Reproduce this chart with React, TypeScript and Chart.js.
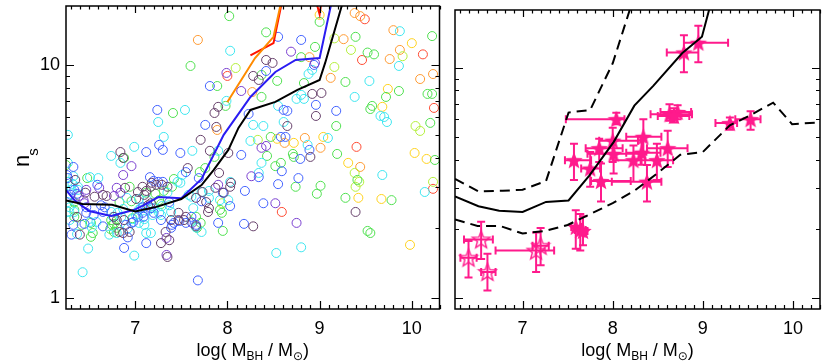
import React, { useEffect, useRef } from 'react';
import { Chart, registerables } from 'chart.js';

Chart.register(...registerables);

const FONT = "'Liberation Sans', Arial, 'DejaVu Sans', sans-serif";

// Axes
const X_MIN = 6.25;
const X_MAX = 10.3;
const Y_MIN = 0.897;
const Y_MAX = 17.9;
const xTickValues = [7, 8, 9, 10];
const yTickValues = [1, 10];
const yMinorTickValues = [2, 3, 4, 5, 6, 7, 8, 9];
const xTitleParts = ['log( M', 'BH', ' / M', '\u2299', ')'];
const yTitleParts = ['n', 's'];

// ---------- Left panel: binned lines ----------
const blackLineX = [6.25, 6.43, 6.75, 7.0, 7.23, 7.5, 7.72, 7.85, 8.01, 8.12, 8.25, 8.52, 8.76, 9.0, 9.06, 9.25, 9.5];
const blackLineY = [2.62, 2.53, 2.51, 2.35, 2.46, 2.66, 3.05, 3.54, 4.32, 5.37, 6.41, 6.94, 7.81, 8.62, 10.2, 18.5, 40];
const blueLineX = [6.25, 6.34, 6.5, 6.74, 6.99, 7.1, 7.25, 7.5, 7.72, 7.96, 8.25, 8.52, 8.74, 9.0, 9.25];
const blueLineY = [2.91, 2.63, 2.36, 2.25, 2.39, 2.51, 2.71, 2.68, 3.24, 5.01, 7.29, 9.33, 10.5, 10.7, 31];
const orangeLineX = [8.0, 8.3, 8.5, 8.75];
const orangeLineY = [6.93, 10.7, 13.2, 37];
const redLineX = [8.25, 8.5, 8.75, 9.0, 9.25];
const redLineY = [11.0, 12.4, 38, 16.5, 80];

// ---------- Left panel: galaxies (x = log Mbh, y = n) ----------
const darkPts = [[7.90,6.61],[7.86,6.22],[7.88,5.42],[7.71,4.77],[7.81,4.28],[8.01,4.19],[7.57,3.61],[8.42,10.5],[8.49,10.2],[8.28,8.97],[8.34,8.62],[8.92,7.51],[9.02,7.58],[8.96,6.04],[8.65,5.47],[8.90,4.03],[7.91,3.44],[9.39,2.34],[8.28,2.03],[7.87,2.97],[7.96,2.83],[8.03,3.0],[8.04,3.12],[7.73,2.85],[7.80,2.43],[7.79,2.34],[6.35,3.21],[6.46,2.83],[6.56,2.72],[6.65,2.77],[6.69,2.74],[7.08,3.0],[7.12,2.88],[7.18,3.12],[7.23,3.06],[7.29,3.06],[7.35,3.0],[7.01,2.66],[7.66,2.69],[7.77,2.58],[6.37,2.23],[6.40,1.87],[6.77,2.23],[6.80,2.16],[6.88,2.16],[6.83,1.92],[6.94,1.92],[7.39,2.16],[7.47,2.16],[7.53,2.16],[7.55,2.23],[7.33,1.92],[7.28,1.72],[7.37,1.77],[7.35,1.50],[6.84,4.23],[6.87,3.99],[6.89,2.97],[7.17,3.0],[7.03,2.85],[7.10,2.77],[6.87,1.90],[7.17,2.55],[7.14,2.50],[7.47,2.32],[7.66,2.03]];
const purplePts = [[7.99,9.24],[6.87,3.37],[8.69,11.4],[8.95,10.2],[8.15,7.73],[8.37,4.41],[8.42,4.49],[8.26,3.33],[8.75,2.10],[8.52,2.55],[7.90,3.06],[6.61,2.97],[6.47,2.91],[6.80,2.97],[6.84,2.83],[7.34,1.81],[6.96,3.68],[6.39,2.74],[6.44,2.63],[6.45,2.55],[6.77,2.74],[7.62,2.10],[7.34,1.53]];
const bluePts = [[7.81,8.12],[7.24,6.41],[7.76,5.53],[7.26,4.54],[7.30,4.32],[7.12,4.23],[7.49,4.19],[6.33,3.65],[7.16,3.30],[7.69,3.27],[8.55,13.2],[8.80,12.8],[8.42,9.42],[8.94,10.0],[8.96,6.74],[9.18,6.35],[8.23,6.16],[8.61,6.41],[8.65,6.35],[8.58,4.91],[8.63,4.91],[8.89,4.32],[8.15,4.11],[8.79,3.95],[8.59,3.50],[8.77,3.27],[8.55,3.08],[8.19,2.88],[8.39,2.55],[8.18,2.08],[7.90,2.10],[8.03,2.48],[7.95,2.83],[7.68,1.19],[6.59,3.06],[6.27,3.27],[7.55,3.47],[7.72,2.60],[6.47,2.45],[6.31,1.87],[6.65,2.03],[6.65,2.34],[6.90,2.06],[6.96,2.10],[6.88,1.64],[7.08,2.32],[7.17,2.43],[7.20,2.32],[7.08,2.45],[7.28,2.16],[7.40,2.06],[7.39,2.0],[7.12,1.72],[7.55,2.10],[6.30,2.77],[6.26,3.37],[7.20,3.18],[7.25,3.15],[7.30,3.15],[6.34,2.91],[6.37,2.80],[6.47,2.32],[6.55,2.27],[6.63,2.50],[6.67,2.45],[7.37,2.58],[7.48,2.14],[7.66,2.06],[7.42,2.10],[6.33,2.06],[6.45,2.08],[6.98,2.12],[7.03,2.23],[7.09,2.23],[6.92,1.82],[7.61,2.23],[8.34,3.30]];
const cyanPts = [[8.03,11.5],[7.99,7.01],[7.54,6.41],[7.25,5.69],[6.27,5.01],[7.31,4.91],[6.99,4.45],[7.90,4.28],[6.74,4.07],[6.84,3.80],[7.51,3.37],[6.51,3.30],[6.60,3.27],[6.33,3.33],[9.87,13.96],[8.88,9.15],[8.92,9.52],[9.54,8.53],[9.38,7.29],[8.75,7.15],[8.83,7.15],[8.80,7.44],[8.55,6.67],[9.66,6.04],[9.70,5.98],[9.73,5.69],[8.61,5.69],[8.28,5.53],[8.39,5.47],[9.09,4.86],[8.25,4.72],[8.87,4.54],[8.37,3.80],[9.68,3.37],[8.34,3.44],[9.86,9.90],[10.14,2.85],[8.53,1.56],[8.80,1.65],[7.72,1.92],[8.01,2.63],[7.80,2.69],[8.03,3.15],[6.32,3.09],[6.29,3.03],[6.38,2.91],[6.91,2.69],[7.04,2.66],[7.13,2.63],[7.49,3.12],[7.58,2.77],[7.61,2.72],[7.80,2.88],[6.29,2.45],[6.34,2.34],[6.29,2.16],[6.51,2.12],[6.58,2.12],[6.53,2.01],[6.74,2.34],[6.81,2.32],[6.76,2.23],[6.85,2.23],[6.72,1.87],[6.80,1.90],[6.97,2.18],[7.01,2.27],[7.04,2.39],[7.10,2.18],[7.04,2.10],[7.10,2.06],[7.12,1.90],[7.17,1.90],[7.26,2.32],[7.29,2.48],[7.37,2.50],[7.39,2.34],[6.99,1.52],[6.49,1.63],[6.43,1.29],[7.61,2.12],[7.66,2.01],[6.31,2.91],[6.27,2.58],[7.62,4.28],[6.27,3.80],[7.46,3.15],[6.27,3.15],[6.38,3.0],[6.28,2.34],[6.87,2.41],[7.06,2.43],[7.15,2.39],[7.20,2.43],[7.28,2.27],[7.19,2.27],[7.35,2.83],[6.37,1.88],[6.92,1.99],[7.63,2.43],[7.92,2.63],[7.72,2.85]];
const greenPts = [[8.02,16.2],[7.60,9.90],[7.89,8.12],[7.98,6.67],[7.41,6.22],[6.88,3.99],[7.86,4.03],[7.76,3.61],[7.70,3.47],[6.25,3.72],[6.48,3.27],[10.22,13.3],[8.42,13.8],[9.0,15.3],[9.39,13.2],[8.95,11.95],[9.52,11.3],[9.59,11.1],[8.80,10.8],[8.37,9.06],[8.54,8.54],[9.28,8.45],[8.83,8.36],[9.72,7.29],[9.86,7.73],[10.17,7.51],[10.22,7.51],[8.37,7.29],[9.57,6.67],[9.55,6.47],[9.18,5.47],[10.20,5.64],[8.47,4.91],[8.71,4.15],[8.72,4.03],[8.43,4.07],[9.19,4.15],[8.52,3.68],[8.58,3.80],[10.25,3.91],[9.41,3.21],[8.74,3.0],[9.01,3.03],[8.97,2.80],[9.28,2.69],[9.78,2.63],[9.52,1.94],[9.55,1.90],[7.95,1.94],[7.71,2.10],[7.92,2.39],[7.94,2.32],[6.94,3.0],[7.12,2.83],[7.22,2.80],[7.31,2.88],[7.40,3.0],[7.42,3.24],[6.34,2.58],[6.34,2.23],[6.42,2.06],[6.75,2.06],[6.80,2.0],[6.73,1.98],[6.97,2.20],[7.66,2.23],[6.34,2.39],[6.96,2.60],[6.83,2.58],[7.28,2.53],[7.26,2.63],[7.67,2.0],[6.52,2.10],[6.54,1.90],[6.74,2.16],[6.77,2.08],[6.77,1.92],[6.52,1.83]];
const yellowGreenPts = [[8.09,9.70],[9.16,13.0],[9.34,11.6],[9.90,10.9],[9.16,9.80],[10.04,5.47],[10.09,5.21],[9.38,3.44],[9.43,3.15],[9.39,3.0],[10.23,3.15],[7.94,2.55],[8.33,4.77]];
const yellowPts = [[10.0,12.4],[9.74,7.89],[9.68,6.61],[9.04,4.91],[8.54,4.82],[10.03,4.19],[10.16,3.95],[9.31,3.80],[9.42,2.69],[9.67,2.66],[9.98,1.69],[8.72,4.63],[9.0,16.4]];
const orangePts = [[7.68,12.8],[7.89,5.26],[9.38,16.7],[9.44,16.2],[9.80,14.1],[9.26,12.9],[9.87,11.6],[9.76,10.6],[8.89,10.8],[10.23,9.14],[9.12,8.8],[10.09,8.7],[8.27,7.65],[8.84,4.86],[8.62,4.63],[9.01,4.41],[9.44,3.65]];
const redPts = [[8.0,8.97],[9.49,15.7],[10.12,11.1],[9.46,10.5],[10.24,6.54],[9.40,4.45],[10.23,2.94],[8.59,2.34]];

// ---------- Right panel: model lines ----------
const solidX = [6.25, 6.51, 6.74, 7.0, 7.26, 7.51, 7.74, 8.01, 8.24, 8.45, 8.77, 8.99, 9.25];
const solidY = [2.77, 2.51, 2.40, 2.37, 2.62, 2.66, 3.41, 4.77, 6.87, 8.37, 11.6, 13.7, 33];
const upperDashX = [6.25, 6.51, 6.78, 7.0, 7.26, 7.51, 7.75, 8.0, 8.25];
const upperDashY = [3.30, 2.91, 2.93, 2.96, 3.23, 6.41, 6.58, 10.5, 21.3];
const lowerDashX = [6.25, 6.5, 6.75, 7.0, 7.25, 7.5, 7.75, 8.0, 8.25, 8.5, 8.75, 9.0, 9.3, 9.52, 9.78, 9.99, 10.3];
const lowerDashY = [2.20, 2.06, 2.06, 1.91, 1.96, 2.08, 2.32, 2.59, 2.95, 3.5, 4.2, 4.32, 5.64, 6.22, 7.08, 5.71, 5.81];

// ---------- Right panel: observed galaxies (stars) ----------
const filledX = [8.79, 8.95, 8.63, 8.72, 8.68, 9.30, 9.53, 8.04, 8.34, 8.00, 8.61, 7.85, 8.01, 8.32, 8.23, 8.49, 7.57, 7.75, 7.87, 8.38, 7.59, 7.64, 7.67];
const filledY = [11.7, 12.9, 6.30, 6.45, 6.20, 5.77, 6.00, 6.00, 5.03, 4.84, 4.49, 4.49, 4.24, 4.29, 3.98, 3.98, 3.98, 3.66, 3.23, 3.21, 2.04, 1.98, 1.96];
const filledXlo = [8.60, 8.79, 8.42, 8.53, 8.50, 9.14, 9.36, 7.48, 8.15, 7.85, 8.38, 7.70, 7.72, 8.15, 8.01, 8.31, 7.47, 7.65, 7.76, 7.99, 7.54, 7.58, 7.62];
const filledXhi = [8.95, 9.28, 8.88, 8.87, 8.85, 9.38, 9.64, 8.13, 8.54, 8.28, 8.83, 8.11, 8.33, 8.53, 8.36, 8.67, 7.76, 7.86, 8.20, 8.54, 7.66, 7.70, 7.72];
const filledYlo = [9.6, 10.6, 5.9, 6.0, 5.8, 5.4, 5.4, 5.7, 4.2, 3.91, 3.72, 3.91, 3.48, 3.80, 3.21, 3.26, 3.26, 3.05, 2.63, 2.63, 1.64, 1.61, 1.70];
const filledYhi = [13.9, 15.3, 6.97, 6.9, 6.7, 6.1, 6.5, 6.4, 6.0, 5.5, 5.35, 4.93, 4.85, 4.86, 4.61, 4.69, 4.69, 4.32, 3.85, 3.79, 2.41, 2.32, 2.27];
const openX = [6.40, 6.54, 6.61, 7.15, 7.20];
const openY = [1.50, 1.80, 1.30, 1.61, 1.69];
const openXlo = [6.31, 6.35, 6.54, 6.70, 7.11];
const openXhi = [6.49, 6.67, 6.70, 7.35, 7.29];
const openYlo = [1.23, 1.48, 1.08, 1.30, 1.39];
const openYhi = [1.77, 2.15, 1.56, 1.93, 2.02];

const PINK = '#ff1a8c';

const circleGroups = [
  { pts: darkPts, color: '#66406a' },
  { pts: purplePts, color: '#7a3fd0' },
  { pts: bluePts, color: '#4262ff' },
  { pts: cyanPts, color: '#3ee6f0' },
  { pts: greenPts, color: '#4fe04f' },
  { pts: yellowGreenPts, color: '#b4ef3c' },
  { pts: yellowPts, color: '#ffd21e' },
  { pts: orangePts, color: '#ff9a32' },
  { pts: redPts, color: '#ff4a32' },
];

const pairs = (arr: number[][]) => arr.map(([x, y]) => ({ x, y }));
const zip = (xs: number[], ys: number[]) => xs.map((x, i) => ({ x, y: ys[i] }));

const framePlugin = {
  id: 'frameTicks',
  afterDatasetsDraw(chart: any) {
    const { ctx, chartArea: a } = chart;
    const xs = chart.scales.x;
    const ys = chart.scales.y;
    ctx.save();
    ctx.strokeStyle = '#000';
    ctx.lineWidth = 1.2;
    ctx.beginPath();
    for (let i = Math.ceil(X_MIN * 10); i <= Math.floor(X_MAX * 10); i++) {
      const px = Math.round(xs.getPixelForValue(i / 10)) + 0.5;
      const major = i % 10 === 0;
      ctx.moveTo(px, a.bottom); ctx.lineTo(px, a.bottom - (major ? 8 : 4));
      ctx.moveTo(px, a.top); ctx.lineTo(px, a.top + (major ? 7 : 3.5));
    }
    const yv: [number, number][] = [
      ...yTickValues.map((v) => [v, 8] as [number, number]),
      ...yMinorTickValues.map((v) => [v, 4] as [number, number]),
    ];
    for (const [v, L] of yv) {
      const py = Math.round(ys.getPixelForValue(v)) + 0.5;
      ctx.moveTo(a.left, py); ctx.lineTo(a.left + L, py);
      ctx.moveTo(a.right, py); ctx.lineTo(a.right - L, py);
    }
    ctx.stroke();
    ctx.lineWidth = 1.5;
    ctx.strokeRect(a.left, a.top, a.right - a.left, a.bottom - a.top);
    ctx.restore();
  },
  afterDraw(chart: any) {
    const { ctx, chartArea: a } = chart;
    ctx.save();
    ctx.fillStyle = '#000';
    ctx.textBaseline = 'alphabetic';
    const sizes = [18, 12, 18, 12, 18];
    const drops = [0, 4, 0, 4, 0];
    let total = 0;
    const widths = xTitleParts.map((t, i) => {
      ctx.font = `${sizes[i]}px ${FONT}`;
      const w = ctx.measureText(t).width;
      total += w;
      return w;
    });
    let x = (a.left + a.right) / 2 - total / 2;
    const base = 356;
    xTitleParts.forEach((t, i) => {
      ctx.font = `${sizes[i]}px ${FONT}`;
      ctx.fillText(t, x, base + drops[i]);
      x += widths[i];
    });
    if (chart.options.plugins.frameTicks && chart.options.plugins.frameTicks.yTitle) {
      ctx.translate(28.5, 167);
      ctx.rotate(-Math.PI / 2);
      ctx.font = `22px ${FONT}`;
      ctx.fillText(yTitleParts[0], 0, 0);
      const w = ctx.measureText(yTitleParts[0]).width;
      ctx.font = `15px ${FONT}`;
      ctx.fillText(yTitleParts[1], w - 1, 9);
    }
    ctx.restore();
  },
};

const errorBarPlugin = {
  id: 'errorBars',
  beforeDatasetsDraw(chart: any) {
    const { ctx, chartArea: a } = chart;
    const xs = chart.scales.x;
    const ys = chart.scales.y;
    ctx.save();
    ctx.beginPath();
    ctx.rect(a.left, a.top, a.right - a.left, a.bottom - a.top);
    ctx.clip();
    ctx.strokeStyle = PINK;
    ctx.lineWidth = 2;
    const cap = 4;
    const draw = (X: number[], Y: number[], xlo: number[], xhi: number[], ylo: number[], yhi: number[]) => {
      ctx.beginPath();
      X.forEach((xv, i) => {
        const px = xs.getPixelForValue(xv);
        const py = ys.getPixelForValue(Y[i]);
        const x0 = xs.getPixelForValue(xlo[i]);
        const x1 = xs.getPixelForValue(xhi[i]);
        const y0 = ys.getPixelForValue(ylo[i]);
        const y1 = ys.getPixelForValue(yhi[i]);
        ctx.moveTo(x0, py); ctx.lineTo(x1, py);
        ctx.moveTo(x0, py - cap); ctx.lineTo(x0, py + cap);
        ctx.moveTo(x1, py - cap); ctx.lineTo(x1, py + cap);
        ctx.moveTo(px, y0); ctx.lineTo(px, y1);
        ctx.moveTo(px - cap, y0); ctx.lineTo(px + cap, y0);
        ctx.moveTo(px - cap, y1); ctx.lineTo(px + cap, y1);
      });
      ctx.stroke();
    };
    draw(filledX, filledY, filledXlo, filledXhi, filledYlo, filledYhi);
    draw(openX, openY, openXlo, openXhi, openYlo, openYhi);
    ctx.restore();
  },
};

function makeStar(filled: boolean) {
  const c = document.createElement('canvas');
  c.width = 22;
  c.height = 22;
  const g = c.getContext('2d')!;
  g.beginPath();
  for (let k = 0; k < 10; k++) {
    const r = k % 2 === 0 ? 9.2 : 3.9;
    const ang = -Math.PI / 2 + (k * Math.PI) / 5;
    const px = 11 + r * Math.cos(ang);
    const py = 11.8 + r * Math.sin(ang);
    if (k === 0) g.moveTo(px, py); else g.lineTo(px, py);
  }
  g.closePath();
  if (filled) {
    g.fillStyle = PINK;
    g.fill();
  } else {
    g.strokeStyle = PINK;
    g.lineWidth = 1.4;
    g.stroke();
  }
  return c;
}

function scaleOptions(showYLabels: boolean) {
  return {
    x: {
      type: 'linear',
      min: X_MIN,
      max: X_MAX,
      bounds: 'data',
      grid: { display: false, drawTicks: false },
      border: { display: false },
      ticks: {
        font: { family: FONT, size: 18 },
        color: '#000',
        padding: 9,
        maxRotation: 0,
        autoSkip: false,
        callback: (v: number) => String(v),
      },
      afterBuildTicks: (s: any) => {
        s.ticks = xTickValues.map((v) => ({ value: v }));
      },
      afterFit: (s: any) => {
        s.height = 53;
        s.paddingLeft = 0;
        s.paddingRight = 0;
      },
    },
    y: {
      type: 'logarithmic',
      min: Y_MIN,
      max: Y_MAX,
      bounds: 'data',
      display: true,
      grid: { display: false, drawTicks: false },
      border: { display: false },
      ticks: {
        display: showYLabels,
        font: { family: FONT, size: 18 },
        color: '#000',
        padding: 6,
        autoSkip: false,
        callback: (v: number) => String(v),
      },
      afterBuildTicks: (s: any) => {
        s.ticks = yTickValues.map((v) => ({ value: v }));
      },
      afterFit: (s: any) => {
        s.width = showYLabels ? 66 : 3;
        s.paddingTop = 0;
        s.paddingBottom = 0;
      },
    },
  };
}

const lineDs = (xs: number[], ys: number[], color: string, dash: number[] = []) => ({
  data: zip(xs, ys),
  showLine: true,
  borderColor: color,
  borderWidth: 2,
  borderDash: dash,
  pointRadius: 0,
  tension: 0,
  fill: false,
});

export default function App() {
  const leftRef = useRef<HTMLCanvasElement>(null);
  const rightRef = useRef<HTMLCanvasElement>(null);

  useEffect(() => {
    const left = new Chart(leftRef.current!, {
      type: 'scatter',
      data: {
        datasets: [
          lineDs(blackLineX, blackLineY, '#000000'),
          lineDs(blueLineX, blueLineY, '#2a1cf2'),
          lineDs(orangeLineX, orangeLineY, '#ff8a00'),
          lineDs(redLineX, redLineY, '#ff1200'),
          ...circleGroups.map((g) => ({
            data: pairs(g.pts),
            showLine: false,
            pointStyle: 'circle',
            pointRadius: 4.5,
            borderWidth: 1,
            borderColor: g.color,
            backgroundColor: 'rgba(0,0,0,0)',
            clip: 0,
          })),
        ],
      } as any,
      options: {
        responsive: false,
        animation: false,
        events: [],
        layout: { padding: { left: 0, right: 2, top: 6, bottom: 0 } },
        plugins: { legend: { display: false }, tooltip: { enabled: false }, frameTicks: { yTitle: true } } as any,
        scales: scaleOptions(true) as any,
      },
      plugins: [framePlugin],
    });

    const filledStar = makeStar(true);
    const openStar = makeStar(false);
    const right = new Chart(rightRef.current!, {
      type: 'scatter',
      data: {
        datasets: [
          lineDs(solidX, solidY, '#000000'),
          lineDs(upperDashX, upperDashY, '#000000', [10, 6]),
          lineDs(lowerDashX, lowerDashY, '#000000', [10, 6]),
          { data: zip(filledX, filledY), showLine: false, pointStyle: filledStar, pointRadius: 9, clip: 0 },
          { data: zip(openX, openY), showLine: false, pointStyle: openStar, pointRadius: 9, clip: 0 },
        ],
      } as any,
      options: {
        responsive: false,
        animation: false,
        events: [],
        layout: { padding: { left: 0, right: 4.3, top: 6, bottom: 0 } },
        plugins: { legend: { display: false }, tooltip: { enabled: false }, frameTicks: { yTitle: false } } as any,
        scales: scaleOptions(false) as any,
      },
      plugins: [errorBarPlugin, framePlugin],
    });

    return () => {
      left.destroy();
      right.destroy();
    };
  }, []);

  return (
    <div style={{ position: 'absolute', left: 0, top: 0, width: 830, height: 362, background: '#fff', overflow: 'hidden' }}>
      <canvas ref={leftRef} width={445} height={362} style={{ position: 'absolute', left: 0, top: 0, width: 445, height: 362 }} />
      <canvas ref={rightRef} width={385} height={362} style={{ position: 'absolute', left: 445, top: 0, width: 385, height: 362 }} />
    </div>
  );
}
